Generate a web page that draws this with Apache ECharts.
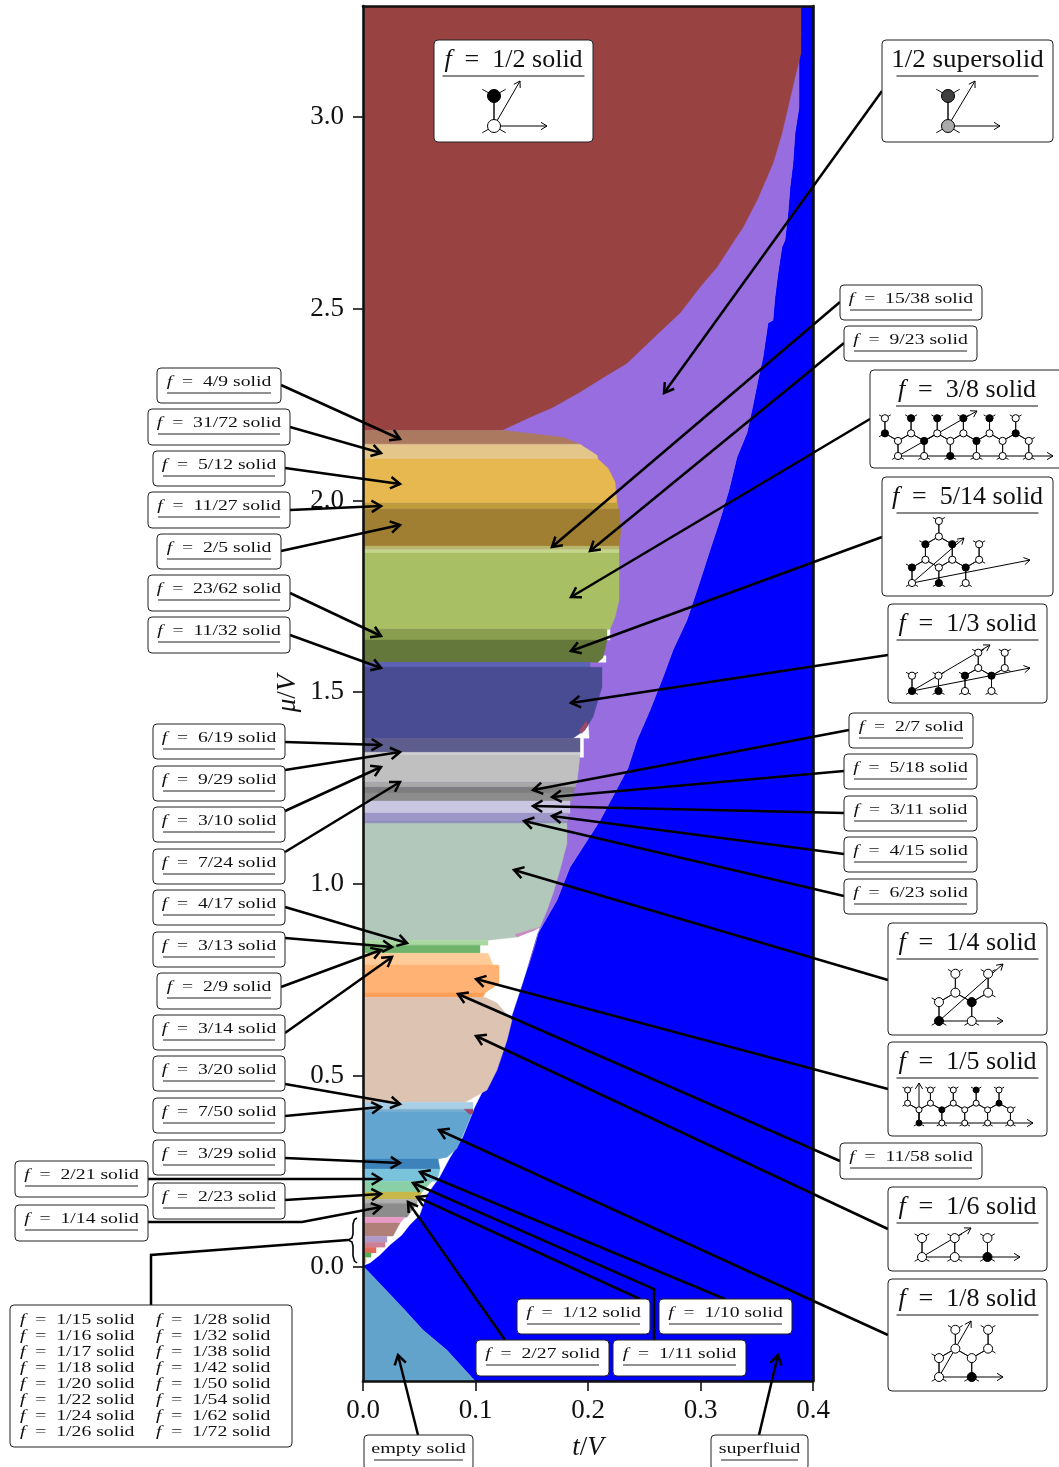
<!DOCTYPE html>
<html><head><meta charset="utf-8">
<style>html,body{margin:0;padding:0;background:#fff}#c{width:1059px;height:1467px}</style>
<script src="https://cdn.jsdelivr.net/npm/echarts@6/dist/echarts.min.js"></script>
</head><body><div id="c"></div>
<script>
// ---- axis ranges and ticks ----
const tRange = [0, 0.4];
const muRange = [-0.297, 3.29];
const tTicks = [0, 0.1, 0.2, 0.3, 0.4];
const muTicks = [0, 0.5, 1, 1.5, 2, 2.5, 3];

// ---- phase boundaries, [t/V, mu/V] ----
const redBoundary = [[0.3893,3.29],[0.3893,3.167],[0.384,3.104],[0.3778,3.026],[0.3724,2.958],[0.3644,2.88],[0.3591,2.843],[0.3502,2.783],[0.3378,2.713],[0.3262,2.661],[0.3147,2.609],[0.2996,2.557],[0.2818,2.489],[0.2578,2.423],[0.2347,2.358],[0.2169,2.327],[0.1929,2.283],[0.1689,2.243],[0.1484,2.217],[0.1236,2.183]];
const superfluidBoundary = [[0.3893,3.29],[0.3893,3.222],[0.3876,3.156],[0.3876,3.026],[0.384,2.958],[0.3822,2.88],[0.3796,2.817],[0.3778,2.75],[0.3751,2.679],[0.3724,2.661],[0.3689,2.593],[0.3662,2.53],[0.3644,2.47],[0.36,2.463],[0.3556,2.374],[0.3511,2.314],[0.3467,2.249],[0.3413,2.176],[0.3324,2.113],[0.3253,2.027],[0.3173,1.949],[0.3084,1.87],[0.2978,1.774],[0.288,1.688],[0.2756,1.61],[0.2667,1.539],[0.2551,1.453],[0.2436,1.375],[0.2356,1.302],[0.2107,1.165],[0.184,1.043],[0.1724,0.957],[0.1556,0.871],[0.1467,0.783],[0.1422,0.741],[0.1333,0.662],[0.128,0.61],[0.1191,0.54],[0.1102,0.48],[0.0996,0.417],[0.0889,0.339],[0.0773,0.284],[0.0684,0.235],[0.0569,0.188],[0.0507,0.136],[0.0418,0.11],[0.0347,0.083],[0.024,0.057],[0.0151,0.031],[0.0062,0.01],[0,0.003]];
const emptyBoundary = [[0,0.003],[0.0178,-0.052],[0.0356,-0.107],[0.0533,-0.164],[0.0747,-0.217],[0.0996,-0.297]];
const supersolidLowerEdge = [[0.1529,0.84],[0.1573,0.887],[0,0.887],[0,3.25]];

// ---- solid plateaus: right-hand edge of each, top to bottom, [t/V, mu/V] ----
const plateauNames = ['4/9','31/72','5/12','11/27','2/5','15/38','9/23','3/8','23/62','5/14','11/32','1/3','6/19','9/29','3/10','7/24','5/18','2/7','3/11','4/15','6/23','1/4','4/17','3/13','2/9','1/5','11/58','1/6','3/20','7/50','1/8','3/29','1/10','2/21','2/23','2/27','1/12','1/15','1/18','1/24','1/28','1/38','1/50','1/62'];
const plateauEdges = [
 [[0.1236,2.183],[0.1778,2.165],[0.1929,2.147]],
 [[0.1929,2.147],[0.208,2.118],[0.2089,2.108]],
 [[0.2089,2.108],[0.2178,2.084],[0.224,2.048],[0.2258,1.993]],
 [[0.2267,1.993],[0.2267,1.977]],
 [[0.2276,1.977],[0.2293,1.923],[0.2276,1.881]],
 [[0.2276,1.881],[0.2276,1.873]],
 [[0.2276,1.873],[0.2276,1.863]],
 [[0.2276,1.863],[0.2276,1.74],[0.224,1.696],[0.2196,1.664]],
 [[0.2169,1.664],[0.2169,1.636]],
 [[0.2169,1.636],[0.2133,1.59],[0.2089,1.578]],
 [[0.2018,1.578],[0.2018,1.555]],
 [[0.2124,1.565],[0.2124,1.513],[0.2044,1.435],[0.1973,1.401],[0.1867,1.38]],
 [[0.1929,1.38],[0.1929,1.343]],
 [[0.1929,1.343],[0.1929,1.336]],
 [[0.1929,1.336],[0.1902,1.265]],
 [[0.1902,1.265],[0.1884,1.252]],
 [[0.1884,1.252],[0.1867,1.237]],
 [[0.1867,1.237],[0.1858,1.216]],
 [[0.184,1.216],[0.184,1.184]],
 [[0.1822,1.184],[0.1822,1.163]],
 [[0.1813,1.163],[0.1813,1.158]],
 [[0.1813,1.158],[0.1813,1.106],[0.1751,1.036],[0.1689,0.975],[0.1636,0.931],[0.1573,0.887],[0.1369,0.861],[0.1111,0.853]],
 [[0.1111,0.853],[0.1111,0.84]],
 [[0.104,0.84],[0.104,0.819]],
 [[0.1111,0.819],[0.1156,0.788]],
 [[0.1209,0.788],[0.1209,0.74],[0.1084,0.715]],
 [[0.1084,0.715],[0.1067,0.704]],
 [[0.1084,0.704],[0.1191,0.689],[0.1324,0.644],[0.128,0.592],[0.1191,0.514],[0.1102,0.462],[0.0907,0.43]],
 [[0.0978,0.43],[0.0978,0.412]],
 [[0.0978,0.412],[0.0978,0.407]],
 [[0.0978,0.407],[0.0907,0.357],[0.0836,0.31],[0.0747,0.287],[0.0667,0.282]],
 [[0.0667,0.282],[0.0684,0.256]],
 [[0.0684,0.256],[0.0658,0.224]],
 [[0.0613,0.224],[0.0524,0.196]],
 [[0.0524,0.196],[0.0489,0.177]],
 [[0.0489,0.177],[0.048,0.167]],
 [[0.048,0.167],[0.0391,0.13]],
 [[0.0373,0.13],[0.0329,0.115]],
 [[0.0329,0.115],[0.0267,0.081]],
 [[0.0213,0.081],[0.0213,0.065]],
 [[0.0196,0.065],[0.0196,0.052]],
 [[0.0116,0.052],[0.0116,0.037]],
 [[0.0071,0.037],[0.0071,0.026]],
 [[0.0027,0.026],[0.0027,0.01]]
];
const plateauColors = ['#ab7860','#e5c68a','#e6b84f','#bd9c3c','#a07f33','#b9b56a','#c5d68a','#a9bf64','#8a9e50','#63783a','#5c62b4','#494b93','#5e5e8e','#d0d0d0','#c0c0c0','#a8a8a8','#7d7d7d','#8c8c8c','#c9c6e2','#9d96c8','#8f8fb8','#b2c8ba','#a8d8a0','#6db36b','#ffcc99','#ffb273','#ff9e55','#dcc3b2','#a8cfe6','#7aaecd','#62a5d0','#3d82ba','#79c4dc','#89d0a8','#c8b84a','#b0b0b0','#8c8c8c','#e89ac6','#b07f78','#b09ac8','#cc7f99','#e06a5a','#50b050','#e8a860'];

// small unresolved patches next to the plateaus
const patchEdges = [
 [[0.2151,1.664],[0.2196,1.664],[0.2196,1.636],[0.2151,1.636]],
 [[0.2089,1.595],[0.2160,1.595],[0.2160,1.578],[0.2089,1.578]],
 [[0.1867,1.38],[0.2000,1.425],[0.2010,1.380],[0.1960,1.38],[0.1960,1.33],[0.1929,1.33],[0.1929,1.38]],
 [[0.1924,1.400],[0.1985,1.425],[0.1995,1.412],[0.1945,1.392]],
 [[0.0900,0.412],[0.0978,0.412],[0.0978,0.402],[0.0950,0.398]],
 [[0.1350,0.868],[0.1573,0.887],[0.1520,0.878],[0.1369,0.861]]
];
const patchColors = ['#ffffff','#ffffff','#ffffff','#a04a6a','#a04a6a','#c98ac0'];

const phaseColors = {superfluid:'#0000ff', empty:'#62a3cc', supersolid:'#976de0', half:'#984241'};

// ---- callout text ----
const FONT = '"Liberation Serif", serif';

// small one-line callouts: text, box [left, top, right, bottom], leader path ending in an arrow
const smallCallouts = [
 ['f|4/9',[157,368,281,403],[[281,385],[400,439]]],
 ['f|31/72',[148,409,290,445],[[290,427],[381,453]]],
 ['f|5/12',[153,451,285,486],[[285,468],[400,484]]],
 ['f|11/27',[148,492,290,528],[[290,510],[381,506]]],
 ['f|2/5',[157,534,281,569],[[281,551],[400,525]]],
 ['f|23/62',[148,575,290,611],[[290,593],[381,636]]],
 ['f|11/32',[148,617,290,653],[[290,635],[381,668]]],
 ['f|6/19',[153,724,285,759],[[285,742],[381,745]]],
 ['f|9/29',[153,766,285,801],[[285,770],[400,752]]],
 ['f|3/10',[153,807,285,842],[[285,811],[381,767]]],
 ['f|7/24',[153,849,285,884],[[285,852],[400,782]]],
 ['f|4/17',[153,890,285,925],[[285,907],[407,943]]],
 ['f|3/13',[153,932,285,967],[[285,938],[392,947]]],
 ['f|2/9',[157,973,281,1009],[[281,987],[381,950]]],
 ['f|3/14',[153,1015,285,1050],[[285,1033],[392,957]]],
 ['f|3/20',[153,1056,285,1091],[[285,1084],[400,1104]]],
 ['f|7/50',[153,1098,285,1133],[[285,1116],[381,1107]]],
 ['f|3/29',[153,1140,285,1175],[[285,1158],[400,1163]]],
 ['f|2/23',[153,1183,285,1219],[[285,1200],[381,1194]]],
 ['f|2/21',[15,1161,148,1197],[[148,1179],[381,1179]]],
 ['f|1/14',[15,1205,148,1241],[[148,1222],[302,1222],[381,1207]]],
 ['f|15/38',[840,285,982,320],[[840,302],[552,547]]],
 ['f|9/23',[844,326,977,361],[[844,343],[590,551]]],
 ['f|2/7',[849,713,973,748],[[849,730],[533,790]]],
 ['f|5/18',[844,754,977,789],[[844,771],[552,797]]],
 ['f|3/11',[844,796,977,831],[[844,813],[533,806]]],
 ['f|4/15',[844,837,977,872],[[844,854],[552,816]]],
 ['f|6/23',[844,879,977,914],[[844,896],[524,821]]],
 ['f|11/58',[840,1143,982,1179],[[840,1161],[458,994]]],
 ['f|1/12',[517,1299,650,1334],[[640,1299],[417,1197]]],
 ['f|1/10',[659,1299,792,1334],[[725,1299],[420,1172]]],
 ['f|2/27',[476,1340,609,1376],[[505,1340],[408,1202]]],
 ['f|1/11',[613,1340,746,1376],[[654,1340],[654,1289],[413,1183]]],
 ['empty solid',[364,1435,473,1470],[[418,1435],[398,1355]]],
 ['superfluid',[711,1435,808,1470],[[759,1435],[778,1355]]]
];

// insets with a lattice. sites: [sublattice (0 lower, 1 upper), i, j, fill]
const W = '#fff', B = '#000';
const insets = [
 {t:'f|1/2',box:[434,40,593,142],o:[494,126],b:30,r:6.5,leader:null,arrows:[[547,126],[520,81]],
  sites:[[0,0,0,W],[1,0,0,B]]},
 {t:'1/2 supersolid',box:[882,40,1053,142],o:[948,126],b:30,r:6.5,leader:[[882,91],[664,393]],arrows:[[1000,126],[975,81]],
  sites:[[0,0,0,'#aaaaaa'],[1,0,0,'#404040']]},
 {t:'f|3/8',box:[870,370,1075,468],o:[898,456],b:15.1,r:3.6,leader:[[870,419],[571,597]],arrows:[[1053,456],[977,411]],
  sites:[[0,0,0,W],[0,1,0,W],[0,2,0,B],[0,3,0,W],[0,4,0,W],[0,5,0,W],
         [1,0,0,W],[1,1,0,B],[1,2,0,W],[1,3,0,B],[1,4,0,W],[1,5,0,W],
         [0,-1,1,B],[0,0,1,W],[0,1,1,W],[0,2,1,W],[0,3,1,W],[0,4,1,B],
         [1,-1,1,W],[1,0,1,B],[1,1,1,B],[1,2,1,B],[1,3,1,B],[1,4,1,W]]},
 {t:'f|5/14',box:[882,477,1053,596],o:[912,583],b:15.5,r:3.6,leader:[[882,537],[571,651]],arrows:[[1030,560],[964,538]],
  sites:[[0,0,0,W],[1,0,0,B],[0,1,0,B],[1,1,0,W],[0,2,0,W],[1,2,0,B],
         [0,0,1,W],[1,0,1,B],[0,1,1,W],[1,1,1,B],[0,2,1,W],[1,2,1,W],
         [0,0,2,W],[1,0,2,W]]},
 {t:'f|1/3',box:[888,604,1047,703],o:[912,691],b:15.3,r:3.6,leader:[[888,655],[571,703]],arrows:[[1030,668],[990,645]],
  sites:[[0,0,0,B],[1,0,0,W],[0,1,0,B],[1,1,0,W],[0,2,0,W],[1,2,0,B],[0,3,0,W],[1,3,0,B],
         [0,2,1,W],[1,2,1,W],[0,3,1,W],[1,3,1,W]]},
 {t:'f|1/4',box:[888,923,1047,1035],o:[939,1021],b:18.9,r:4.5,leader:[[888,980],[514,870]],arrows:[[1003,1021],[1003,964]],
  sites:[[0,0,0,B],[1,0,0,W],[0,1,0,W],[1,1,0,B],[0,0,1,W],[1,0,1,W],[0,1,1,W],[1,1,1,W]]},
 {t:'f|1/5',box:[888,1042,1047,1136],o:[919,1123],b:13.2,r:3,leader:[[888,1089],[476,979]],arrows:[[1033,1123],[919,1083]],
  sites:[[0,0,0,B],[0,1,0,W],[0,2,0,W],[0,3,0,W],[0,4,0,W],[1,0,0,W],[1,1,0,B],[1,2,0,W],[1,3,0,W],[1,4,0,W],
         [0,-1,1,W],[0,0,1,W],[0,1,1,W],[0,2,1,W],[0,3,1,B],[1,-1,1,W],[1,0,1,W],[1,1,1,W],[1,2,1,B],[1,3,1,W]]},
 {t:'f|1/6',box:[888,1187,1047,1271],o:[922,1257],b:18.9,r:4.5,leader:[[888,1229],[476,1036]],arrows:[[1020,1257],[971,1228]],
  sites:[[0,0,0,W],[1,0,0,W],[0,1,0,W],[1,1,0,W],[0,2,0,B],[1,2,0,W]]},
 {t:'f|1/8',box:[888,1279,1047,1391],o:[939,1377],b:18.9,r:4.5,leader:[[888,1335],[439,1130]],arrows:[[1003,1377],[971,1321]],
  sites:[[0,0,0,W],[1,0,0,W],[0,1,0,B],[1,1,0,W],[0,0,1,W],[1,0,1,W],[0,1,1,W],[1,1,1,W]]}
];

// the boxed list of low-density solids
const listCol1 = ['1/15','1/16','1/17','1/18','1/20','1/22','1/24','1/26'];
const listCol2 = ['1/28','1/32','1/38','1/42','1/50','1/54','1/62','1/72'];

// ---- build polygons for the custom series ----
const polygons = [];
const addPoly = (pts, color) => polygons.push({pts, color});
addPoly(superfluidBoundary.concat(emptyBoundary.slice(1), [[tRange[1],muRange[0]],[tRange[1],muRange[1]]]), phaseColors.superfluid);
addPoly([[0,emptyBoundary[0][1]]].concat(emptyBoundary.slice(1), [[0,muRange[0]]]), phaseColors.empty);
const ssEnd = superfluidBoundary.findIndex(p => p[1] === 0.783);
addPoly(superfluidBoundary.slice(1, ssEnd + 1).concat(supersolidLowerEdge), phaseColors.supersolid);
addPoly([[0,muRange[1]]].concat(redBoundary, [[0,redBoundary[redBoundary.length-1][1]]]), phaseColors.half);
patchEdges.slice(0,3).forEach((e,i)=>addPoly(e,patchColors[i]));
plateauEdges.forEach((edge,i)=>{
  const first = edge[0], last = edge[edge.length-1];
  addPoly([[0,first[1]]].concat(edge, [[0,last[1]]]), plateauColors[i]);
});
patchEdges.slice(3).forEach((e,i)=>addPoly(e,patchColors[i+3]));

// ---- overlay graphics ----
const g = [];
const line = (pts,w,z,col) => g.push({type:'polyline',z:z||110,shape:{points:pts},style:{stroke:col||'#000',lineWidth:w,fill:null,lineJoin:'miter',lineCap:'butt'}});
function arrowHead(p0,p1,len,w,z){
  const a = Math.atan2(p1[1]-p0[1],p1[0]-p0[0]), s = 0.55;
  const h1=[p1[0]-len*Math.cos(a-s),p1[1]-len*Math.sin(a-s)], h2=[p1[0]-len*Math.cos(a+s),p1[1]-len*Math.sin(a+s)];
  line([h1,p1,h2],w,z);
}
function leader(path){
  line(path,2.5,110);
  arrowHead(path[path.length-2],path[path.length-1],11,2.5,110);
}
const STX = 1.27, BTX = 1.02, STX_PLAIN = 1.3, BTX_PLAIN = 1.06;
function label(t,x,y,size,sx,align){
  let txt = t;
  if (t.startsWith('f|')) txt = '{i|f}  =  ' + t.slice(2) + ' solid';
  g.push({type:'text',z:130,x:x,y:y,scaleX:sx,style:{x:0,y:0,text:txt,align:align||'center',verticalAlign:'middle',fill:'#111',
    font:size+'px '+FONT,fontSize:size,fontFamily:'Liberation Serif',
    rich:{i:{fontStyle:'italic',fontSize:size,fontFamily:'Liberation Serif',fill:'#111'}}}});
}
function box(b){
  g.push({type:'rect',z:120,shape:{x:b[0],y:b[1],width:b[2]-b[0],height:b[3]-b[1],r:4},style:{fill:'#fff',stroke:'#222',lineWidth:1}});
}
smallCallouts.forEach(c=>{
  const b=c[1]; leader(c[2]); box(b);
  const cx=(b[0]+b[2])/2;
  label(c[0],cx,b[1]+14,15.5,c[0].startsWith('f|')?STX:STX_PLAIN);
  const hw=(b[2]-b[0])/2-10;
  line([[cx-hw,b[1]+25],[cx+hw,b[1]+25]],1,125,'#222');
});
insets.forEach(n=>{
  const b=n.box; if(n.leader) leader(n.leader); box(b);
  const cx = b[2]>1060 ? 967 : (b[0]+b[2])/2;
  label(n.t,cx,b[1]+20,25.5,n.t.startsWith('f|')?BTX:BTX_PLAIN);
  line([[cx-71,b[1]+36],[cx+71,b[1]+36]],1,125,'#111');
  const a=n.b*Math.sqrt(3);
  const pos=(s)=>[n.o[0]+s[1]*a+s[2]*a/2, n.o[1]-s[2]*1.5*n.b-(s[0]?n.b:0)];
  const has=(k,i,j)=>n.sites.some(s=>s[0]===k&&s[1]===i&&s[2]===j);
  n.sites.forEach(s=>{
    const p=pos(s), i=s[1], j=s[2];
    const nb = s[0]===0 ? [[1,i,j],[1,i,j-1],[1,i+1,j-1]] : [[0,i,j],[0,i,j+1],[0,i-1,j+1]];
    nb.forEach(q=>{
      const qp=pos(q), end = has(q[0],q[1],q[2]) ? qp : [p[0]+(qp[0]-p[0])*0.45,p[1]+(qp[1]-p[1])*0.45];
      line([p,end],1,122,'#111');
    });
  });
  n.arrows.forEach(e=>{ line([n.o,e],1,123); arrowHead(n.o,e,7,1,123); });
  n.sites.forEach(s=>{
    const p=pos(s);
    g.push({type:'circle',z:124,shape:{cx:p[0],cy:p[1],r:n.r},style:{fill:s[3],stroke:'#000',lineWidth:1}});
  });
});
// list box + brace
line([[151,1305],[151,1255],[348,1240]],2.5,110);
line([[357,1218],[354.5,1219.5],[353,1224],[353,1234],[352,1238],[348,1240],[352,1242],[353,1246],[353,1256],[354.5,1261],[357,1263]],1.6,110);
box([10,1305,292,1447]);
listCol1.forEach((f,i)=>label('f|'+f,20,1320+16*i,15.5,STX,'left'));
listCol2.forEach((f,i)=>label('f|'+f,156,1320+16*i,15.5,STX,'left'));

// ---- chart ----
const chart = echarts.init(document.getElementById('c'),null,{renderer:'canvas',width:1059,height:1467});
const tickLabel = {fontFamily:'Liberation Serif',fontSize:27,color:'#111'};
const italic = {fontStyle:'italic',fontFamily:'Liberation Serif',fontSize:27,color:'#111'};
chart.setOption({
  animation:false,
  backgroundColor:'#fff',
  grid:{left:363,right:246,top:6,bottom:86,containLabel:false},
  xAxis:[
   {type:'value',min:tRange[0],max:tRange[1],position:'bottom',z:5,splitLine:{show:false},
    axisLine:{show:true,onZero:false,lineStyle:{color:'#111',width:2.6}},
    axisTick:{show:true,length:10,inside:false,lineStyle:{color:'#111',width:1.6},customValues:tTicks},
    axisLabel:{show:true,margin:16,customValues:tTicks,formatter:v=>v.toFixed(1),...tickLabel,showMinLabel:true,showMaxLabel:true},
    name:'{i|t}/{i|V}',nameLocation:'middle',nameGap:53,nameTextStyle:{...tickLabel,rich:{i:italic}}},
   {type:'value',min:tRange[0],max:tRange[1],position:'top',z:5,splitLine:{show:false},axisTick:{show:false},axisLabel:{show:false},
    axisLine:{show:true,onZero:false,lineStyle:{color:'#111',width:2.6}}}
  ],
  yAxis:[
   {type:'value',min:muRange[0],max:muRange[1],position:'left',z:5,splitLine:{show:false},
    axisLine:{show:true,onZero:false,lineStyle:{color:'#111',width:2.6}},
    axisTick:{show:true,length:10,lineStyle:{color:'#111',width:1.6},customValues:muTicks},
    axisLabel:{show:true,margin:19,padding:[2,0,0,0],customValues:muTicks,formatter:v=>v.toFixed(1),...tickLabel},
    name:'{i|μ}/{i|V}',nameLocation:'middle',nameGap:62,nameTextStyle:{...tickLabel,rich:{i:italic}}},
   {type:'value',min:muRange[0],max:muRange[1],position:'right',z:5,splitLine:{show:false},axisTick:{show:false},axisLabel:{show:false},
    axisLine:{show:true,onZero:false,lineStyle:{color:'#111',width:2.6}}}
  ],
  series:[{
    type:'custom',coordinateSystem:'cartesian2d',xAxisIndex:0,yAxisIndex:0,clip:true,silent:true,
    data:polygons.map((p,i)=>[p.pts[0][0],p.pts[0][1],i]),
    encode:{x:0,y:1},
    renderItem:(params,api)=>{
      const p=polygons[api.value(2)];
      return {type:'polygon',shape:{points:p.pts.map(q=>api.coord(q))},style:{fill:p.color,stroke:p.color,lineWidth:0.4}};
    }
  }],
  graphic:{elements:g}
});
</script></body></html>
